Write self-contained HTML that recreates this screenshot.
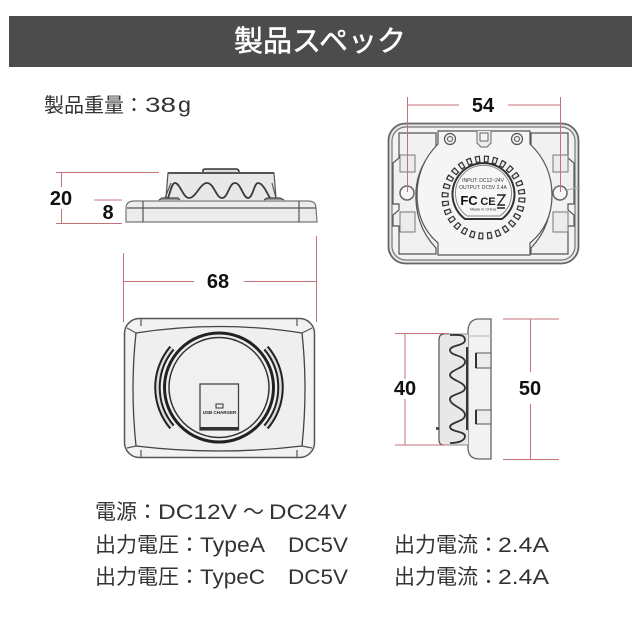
<!DOCTYPE html>
<html><head><meta charset="utf-8"><style>
html,body{margin:0;padding:0;background:#fff}
svg{display:block}
text{font-family:"Liberation Sans","Noto Sans CJK JP",sans-serif}
.t{font-size:21px;fill:#333}
.d{font-size:20px;font-weight:bold;fill:#111;text-anchor:middle}
.r{stroke:#c4707a;stroke-width:1;fill:none}
.k{stroke:#555;stroke-width:1.2;fill:none}
.h{stroke:#3a3a3a;stroke-width:1.800;fill:none}
</style></head><body>
<svg width="640" height="630" viewBox="0 0 640 630" xmlns="http://www.w3.org/2000/svg">
<rect width="640" height="630" fill="#fff"/>
<rect x="9" y="16" width="623" height="51" fill="#4c4c4c"/>
<text x="320" y="51" font-size="29" fill="#fff" stroke="#fff" stroke-width="0.500" text-anchor="middle" textLength="172" lengthAdjust="spacingAndGlyphs">製品スペック</text>

<text x="44" y="112" style="font-size:20px;fill:#333">製品重量：</text>
<text class="t" x="145" y="112" textLength="31" lengthAdjust="spacingAndGlyphs">38</text>
<text class="t" x="178" y="112" textLength="13" lengthAdjust="spacingAndGlyphs">g</text>

<!-- Side view top-left -->
<g>
<path d="M126 222V208Q126 201 134 201H308Q316 201 316 208L317 222Z" fill="#ececec" stroke="#777" stroke-width="1.200"/>
<path d="M127 208H316M143 201V222M299 201V222" class="k"/>
<path d="M167 173H274L277 200H165Z" fill="#e8e8e8"/>
<path d="M166 198L168 173H274L276 198" class="k"/>
<path d="M168 173H274" stroke="#555" stroke-width="2"/>
<path d="M203 172V170Q203 169 206 169H236Q239 169 239 172" fill="#ddd" stroke="#333" stroke-width="1.500"/>
<path d="M168 198C171 190 172 183 175 183C180 183 183 198 189 198C196 198 200 183 207 183C214 183 216 198 222 198C228 198 229 183 235 183C241 183 243 198 248 198C253 198 254 183 258 183C263 183 267 193 270 198" class="h"/>
<path d="M165 198L171 183M276 198L272 183" class="k"/>
<path d="M159 200L162 198H178L180 200M264 200L267 198H280L284 200" fill="#999" stroke="#444" stroke-width="1.200"/>
</g>

<!-- Dim 20/8/68 -->
<path class="r" d="M56 172.500H159M56 223.500H122M61.500 172V187M61.500 209V223M94 200H122"/>
<text class="d" x="61" y="205">20</text>
<text class="d" x="108" y="219">8</text>
<path class="r" d="M123.500 253V322M316.500 236V322M123 281.500H194M244 281.500H316"/>
<text class="d" x="218" y="288">68</text>

<!-- Back view -->
<g>
<rect x="388.500" y="123.500" width="190" height="140" rx="17" fill="#e6e6e6" stroke="#666" stroke-width="1.800"/>
<rect x="392" y="127" width="183" height="133" rx="14" fill="#f3f3f3" stroke="#777" stroke-width="1.200"/>
<path d="M399 133H436V148Q418 165 416 190Q414 225 436 248V254H399V226H393V215L399 210V204H393V163L399 158Z" fill="#f1f1f1" stroke="#555" stroke-width="1.200"/>
<path d="M568 133H531V148Q549 165 551 190Q553 225 531 248V254H568V226H574V215L568 210V204H574V163L568 158Z" fill="#f1f1f1" stroke="#555" stroke-width="1.200"/>
<path d="M438 131H530V144Q552 165 552 195Q552 225 530 243V255H438V243Q417 225 417 195Q417 165 438 144Z" fill="#f5f5f5" stroke="#555" stroke-width="1.200"/>
<circle cx="450" cy="139" r="5.500" fill="#eee" stroke="#555" stroke-width="1.200"/><circle cx="450" cy="139" r="2.500" fill="#eee" stroke="#555"/>
<circle cx="517" cy="139" r="5.500" fill="#eee" stroke="#555" stroke-width="1.200"/><circle cx="517" cy="139" r="2.500" fill="#eee" stroke="#555"/>
<path d="M477 131V143L481 147H487L491 143V131M480 133H488V141H480Z" fill="#eee" stroke="#666"/>
<rect x="400" y="155" width="15" height="17" fill="#ececec" stroke="#777"/>
<rect x="400" y="212" width="15" height="20" fill="#ececec" stroke="#777"/>
<rect x="553" y="155" width="15" height="17" fill="#ececec" stroke="#777"/>
<rect x="553" y="212" width="15" height="20" fill="#ececec" stroke="#777"/>
<circle cx="407" cy="193" r="7" fill="#f7f7f7" stroke="#666" stroke-width="1.500"/>
<circle cx="560" cy="193" r="7" fill="#f7f7f7" stroke="#666" stroke-width="1.500"/>
<path d="M567 190L580 187" stroke="#aaa"/>
<circle cx="483.500" cy="197.500" r="38.500" fill="none" stroke="#333" stroke-width="7" stroke-dasharray="5 3.640"/>
<circle cx="483.500" cy="197.500" r="38.500" fill="none" stroke="#eee" stroke-width="4.500" stroke-dasharray="2.600 6.040" stroke-dashoffset="-1.200"/>
<path d="M465 219A31 31 0 1 1 502 219Z" fill="#f7f7f7" stroke="#333" stroke-width="2"/>
<path d="M467 216A28 28 0 1 1 500 216Z" fill="none" stroke="#888" stroke-width="1"/>
<text x="483" y="182" font-size="5" fill="#333" text-anchor="middle">INPUT: DC12~24V</text>
<text x="483" y="189" font-size="5" fill="#333" text-anchor="middle">OUTPUT: DC5V 2.4A</text>
<text x="469" y="205" font-size="13" font-weight="bold" fill="#111" text-anchor="middle">FC</text>
<text x="488" y="205" font-size="11" font-weight="bold" fill="#222" text-anchor="middle">CE</text>
<path d="M497 195H505L498 205H505M497 208H505" stroke="#222" stroke-width="1.400" fill="none"/>
<text x="483" y="210.500" font-size="4" fill="#333" text-anchor="middle">Made in China</text>
</g>
<path class="r" d="M407.500 97V192M560.500 97V192M407 105H459M508 105H560"/>
<text class="d" x="483" y="112">54</text>

<!-- Front view -->
<g>
<rect x="124.500" y="318.500" width="190" height="139" rx="15" fill="#f2f2f2" stroke="#555" stroke-width="1.500"/>
<path d="M136 333Q219 320 302 333Q308 388 302 446Q219 456 136 446Q130 388 136 333Z" fill="#efefef" stroke="#444" stroke-width="1.300"/>
<path d="M141 318V326M297 318V326M141 450V457M297 450V457M127 328L136 333M312 328L302 333M127 448L136 446M312 448L302 446" class="k"/>
<circle cx="219" cy="387.500" r="54.500" fill="none" stroke="#222" stroke-width="3"/>
<circle cx="219" cy="387.500" r="50" fill="#f0f0f0" stroke="#333" stroke-width="1.500"/>
<path d="M172 348A61 61 0 0 0 172 427" fill="none" stroke="#222" stroke-width="6.500"/>
<path d="M172 348A61 61 0 0 0 172 427" fill="none" stroke="#ddd" stroke-width="2.500"/>
<path d="M266 348A61 61 0 0 1 266 427" fill="none" stroke="#222" stroke-width="6.500"/>
<path d="M266 348A61 61 0 0 1 266 427" fill="none" stroke="#ddd" stroke-width="2.500"/>
<rect x="200" y="384" width="38.500" height="46" fill="#eee" stroke="#444" stroke-width="1.300"/>
<rect x="200" y="427" width="38.500" height="3" fill="#333"/>
<rect x="216" y="404" width="7" height="4" fill="none" stroke="#333"/>
<text x="219.500" y="414" font-size="4.500" font-weight="bold" fill="#222" text-anchor="middle">USB CHARGER</text>
</g>

<!-- Right side view -->
<g>
<path d="M468 330Q469 319 479 319H491V459H479Q469 459 468 449Z" fill="#f2f2f2" stroke="#666" stroke-width="1.300"/>
<path d="M468 336H491" stroke="#bbb" fill="none"/>
<path d="M476 353H491V368H476ZM476 410H491V424H476Z" fill="#ececec" stroke="#555"/>
<path d="M476 353V368M476 410V424" stroke="#333" stroke-width="2"/>
<path d="M468 334L444 334Q439 334 439 340V438Q439 445 444 445H468Z" fill="#e8e8e8"/>
<path d="M444 334Q439 334 439 340V440Q439 445 444 445" class="k" stroke-width="1.500"/>
<path d="M444 334H468M444 445H468" stroke="#888" fill="none"/>
<path d="M450 335C458 335 465 334 465 340C465 346 450 345 450 350C450 356 465 355 465 362C465 368 450 370 450 375C450 380 465 382 465 388C465 394 450 394 450 399C450 406 465 408 465 415C465 422 450 422 450 427C450 432 465 431 465 436C465 441 458 443 450 443" fill="none" stroke="#333" stroke-width="1.800"/>
<path d="M467 347V430" stroke="#222" stroke-width="1.800"/>
<path d="M436 428.500H439" stroke="#333" stroke-width="2.500"/>
</g>
<path class="r" d="M395 333.500H449M395 445H449M405 333V379M405 399V445M503 319H559M503 459.500H559M530.500 319V372M530.500 404V459"/>
<text class="d" x="405" y="395">40</text>
<text class="d" x="530" y="395">50</text>

<!-- Spec text -->
<text class="t" x="95" y="519">電源：</text>
<text class="t" x="158" y="519" textLength="79" lengthAdjust="spacingAndGlyphs">DC12V</text>
<text class="t" x="243" y="519">～</text>
<text class="t" x="269" y="519" textLength="78" lengthAdjust="spacingAndGlyphs">DC24V</text>

<text class="t" x="95" y="552">出力電圧：</text>
<text class="t" x="200" y="552" textLength="65" lengthAdjust="spacingAndGlyphs">TypeA</text>
<text class="t" x="288" y="552" textLength="60" lengthAdjust="spacingAndGlyphs">DC5V</text>
<text class="t" x="394" y="552">出力電流：</text>
<text class="t" x="498" y="552" textLength="51" lengthAdjust="spacingAndGlyphs">2.4A</text>

<text class="t" x="95" y="584">出力電圧：</text>
<text class="t" x="200" y="584" textLength="65" lengthAdjust="spacingAndGlyphs">TypeC</text>
<text class="t" x="288" y="584" textLength="60" lengthAdjust="spacingAndGlyphs">DC5V</text>
<text class="t" x="394" y="584">出力電流：</text>
<text class="t" x="498" y="584" textLength="51" lengthAdjust="spacingAndGlyphs">2.4A</text>
</svg>
</body></html>
